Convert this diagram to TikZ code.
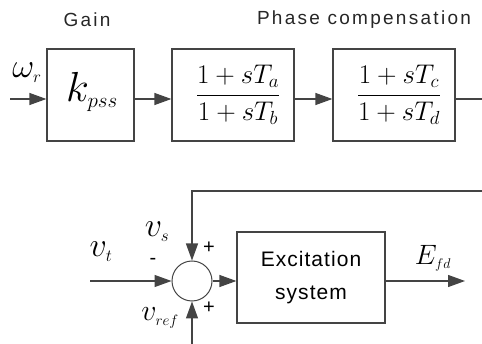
\documentclass[tikz,border=0pt]{standalone}
\usepackage{fix-cm}
\usepackage{amsmath}
\usepackage{fontspec}
\setmainfont{Liberation Sans}
\usetikzlibrary{arrows.meta,calc}
\definecolor{linec}{HTML}{444444}
\begin{document}
\begin{tikzpicture}[x=1pt,y=-1pt,
  blk/.style={draw=linec,line width=1.2pt,inner sep=0pt},
  sig/.style={draw=linec,line width=1.2pt,-{Triangle[length=17pt,width=12pt]}},
  wire/.style={draw=linec,line width=1.2pt},
  lbl/.style={inner sep=0pt,text=black},
  toplbl/.style={inner sep=0pt,text=black!85,font=\fontsize{19}{22}\selectfont\addfontfeatures{LetterSpace=12}},
  sgn/.style={inner sep=0pt,font=\fontsize{20}{22}\selectfont}
]
\useasboundingbox (0,0) rectangle (482,344);
% top labels
\node[toplbl] (gain) at (87,20) {Gain};
\node[toplbl] (phase) at (364,20) {Phase compensation};
% blocks
\node[blk,minimum width=87pt,minimum height=92pt] (b1) at (90.5,95) {};
\node[lbl,font=\fontsize{42}{46}\selectfont] (kp) at (92,92) {$k_{\scriptscriptstyle pss}$};
\node[blk,minimum width=122pt,minimum height=92pt] (b2) at (233,95) {};
\node[lbl,font=\fontsize{27}{32}\selectfont] (f2) at (238,95) {$\dfrac{1+sT_a}{1+sT_b}$};
\node[blk,minimum width=122pt,minimum height=92pt] (b3) at (394,95) {};
\node[lbl,font=\fontsize{27}{32}\selectfont] (f3) at (399,95) {$\dfrac{1+sT_c}{1+sT_d}$};
\node[lbl,font=\fontsize{34}{38}\selectfont] (om) at (27,73) {$\omega_{\scriptscriptstyle r}$};
% top connectors
\coordinate (in) at (10,99);
\coordinate (outr) at (482,99);
\draw[sig] (in) -- (in -| b1.west);
\draw[sig] (in -| b1.east) -- (in -| b2.west);
\draw[sig] (in -| b2.east) -- (in -| b3.west);
\draw[wire] (in -| b3.east) -- (outr);
% bottom
\node[draw=linec,line width=1pt,circle,minimum size=40pt,inner sep=0pt] (sum) at (192,281) {};
\node[blk,minimum width=148pt,minimum height=91pt,align=center,
  font=\fontsize{21}{33}\selectfont\addfontfeatures{LetterSpace=5}] (exc) at (311,277.5) {Excitation\\system};
\coordinate (vt) at (90,281);
\coordinate (efd) at (465,281);
\coordinate (fbr) at (482,191);
\coordinate (fbl) at (192,191);
\coordinate (vref) at (192,344);
\draw[sig] (vt) -- (sum.west);
\draw[sig] (sum.east) -- (sum -| exc.west);
\draw[sig] (sum -| exc.east) -- (efd);
\draw[sig] (fbr) -- (fbl) -- (sum.north);
\draw[sig] (vref) -- (sum.south);
% bottom labels
\node[lbl,font=\fontsize{34}{38}\selectfont] (lvt) at (101,252) {$v_{\scriptscriptstyle t}$};
\node[lbl,font=\fontsize{34}{38}\selectfont] (lvs) at (157,232) {$v_{\scriptscriptstyle s}$};
\node[lbl,font=\fontsize{30}{36}\selectfont] (lvr) at (160,318) {$v_{\scriptscriptstyle ref}$};
\node[lbl,font=\fontsize{28}{32}\selectfont] (lefd) at (433,258) {$E_{\scriptscriptstyle fd}$};
\node[sgn] (pm) at (153,261) {-};
\node[sgn] (p1) at (209,248) {+};
\node[sgn] (p2) at (209,308) {+};
\end{tikzpicture}
\end{document}
